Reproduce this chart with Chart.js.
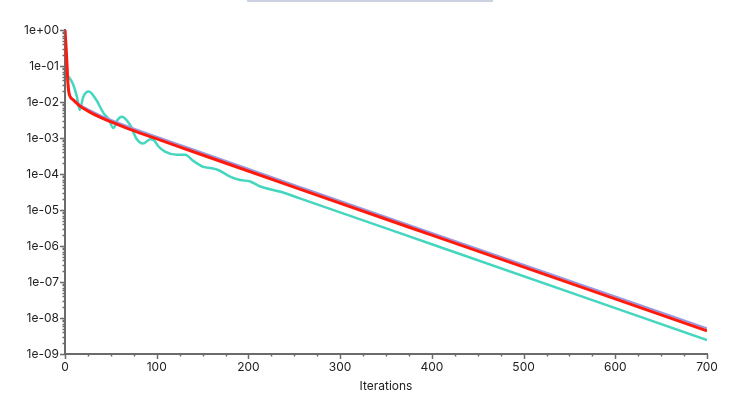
<!DOCTYPE html>
<html>
<head>
<meta charset="utf-8">
<script src="https://cdn.jsdelivr.net/npm/chart.js@4/dist/chart.umd.min.js"></script>
<style>
  html, body { margin: 0; padding: 0; background: #fff; }
  #wrap { width: 738px; height: 394px; position: relative; }
</style>
</head>
<body>
<div id="wrap"><canvas id="residuals"></canvas></div>
<script>
// residual history: iteration + value
const redIters  = [0, 1, 2, 3, 4, 6, 9, 16, 27, 38, 49, 71, 104, 136, 256, 400, 700];
const redVals   = [1, 0.4, 0.14, 0.04, 0.02, 0.0135, 0.0115, 0.0078, 0.00525, 0.0038, 0.0029, 0.00174, 8.7e-4, 4.5e-4, 3.8e-5, 2.0e-6, 4.4e-9];

const blueIters = [0, 1, 2, 3, 4, 6, 9, 16, 27, 38, 49, 71, 104, 136, 256, 400, 700];
const blueVals  = [1, 0.4, 0.14, 0.042, 0.021, 0.014, 0.012, 0.0085, 0.0059, 0.0043, 0.0033, 0.002, 1.0e-3, 5.2e-4, 4.4e-5, 2.3e-6, 5.2e-9];

const tealIters = [2, 4, 9, 13, 16, 20, 26, 34, 42, 47, 53, 57, 62, 71, 78, 85, 93, 97, 102, 109, 122, 131, 140, 151, 160, 167, 180, 191, 202, 213, 235, 256, 400, 700];
const tealVals  = [0.055, 0.05, 0.03, 0.014, 0.006, 0.014, 0.0195, 0.0115, 0.0049, 0.0035, 0.0019, 0.0031, 0.0039, 0.0023, 0.00095, 0.0007, 0.00093, 0.00087, 0.00058, 0.00042, 0.00034, 0.00034, 0.00023, 0.000158, 0.000145, 0.000129, 8.5e-5, 6.8e-5, 6.2e-5, 4.5e-5, 3.2e-5, 2.1e-5, 1.12e-6, 2.45e-9];

const decades = [1e-9, 1e-8, 1e-7, 1e-6, 1e-5, 1e-4, 1e-3, 1e-2, 1e-1, 1];
const xMajor = [0, 100, 200, 300, 400, 500, 600, 700];

const pts = (xs, ys) => xs.map((x, i) => ({ x: x, y: ys[i] }));

function fmtExp(v) {
    const e = Math.round(Math.log10(v));
    const s = e < 0 ? '-' : '+';
    return '1e' + s + String(Math.abs(e)).padStart(2, '0');
}

const axisColor = '#6b6b6b';

// draws the axis tick marks (major + minor) and the faint bar at the top
const tickMarks = {
    id: 'tickMarks',
    beforeDraw(chart) {
        const ctx = chart.ctx;
        ctx.save();
        ctx.fillStyle = '#cdd2e2';
        ctx.fillRect(247, 0, 246, 2);
        ctx.restore();
    },
    afterDraw(chart) {
        const ctx = chart.ctx;
        const xs = chart.scales.x, ys = chart.scales.y;
        const area = chart.chartArea;
        ctx.save();
        ctx.strokeStyle = axisColor;
        ctx.lineWidth = 1.5;
        ctx.beginPath();
        for (let v = 0; v <= 700; v += 25) {
            const px = Math.round(xs.getPixelForValue(v)) + 0.5;
            const len = v % 100 === 0 ? 5 : 2.5;
            ctx.moveTo(px, area.bottom);
            ctx.lineTo(px, area.bottom + len);
        }
        for (let e = -9; e <= 0; e++) {
            for (let m = 1; m <= 9; m++) {
                const v = m * Math.pow(10, e);
                if (v > 1.0000001) break;
                const py = Math.round(ys.getPixelForValue(v)) + 0.5;
                const len = m === 1 ? 5 : 2.5;
                ctx.moveTo(area.left, py);
                ctx.lineTo(area.left - len, py);
            }
        }
        ctx.stroke();
        ctx.restore();
    }
};

const chart = new Chart(document.getElementById('residuals'), {
    type: 'line',
    data: {
        datasets: [{
            label: 'red',
            data: pts(redIters, redVals),
            borderColor: '#ff1a0d',
            borderWidth: 3,
            pointRadius: 0,
            cubicInterpolationMode: 'monotone',
            order: 0
        }, {
            label: 'blue',
            data: pts(blueIters, blueVals),
            borderColor: '#9a98e0',
            borderWidth: 2,
            pointRadius: 0,
            cubicInterpolationMode: 'monotone',
            order: 1
        }, {
            label: 'teal',
            data: pts(tealIters, tealVals),
            borderColor: '#44d6bf',
            borderWidth: 2.5,
            pointRadius: 0,
            cubicInterpolationMode: 'monotone',
            order: 2
        }]
    },
    options: {
        responsive: true,
        maintainAspectRatio: false,
        animation: false,
        layout: { padding: { top: 30, right: 31, left: 0, bottom: 0 } },
        plugins: { legend: { display: false }, tooltip: { enabled: false } },
        scales: {
            x: {
                type: 'linear',
                min: 0,
                max: 700,
                afterBuildTicks: (scale) => { scale.ticks = xMajor.map(v => ({ value: v })); },
                afterFit: (scale) => { scale.height = 40; },
                ticks: {
                    color: '#222',
                    font: { family: 'Inter', size: 12 },
                    padding: 6,
                    maxRotation: 0
                },
                grid: { display: false, drawTicks: false },
                border: { display: true, color: axisColor, width: 2 },
                title: {
                    display: true,
                    text: 'Iterations',
                    color: '#222',
                    font: { family: 'Inter', size: 12 },
                    padding: { top: 4, bottom: 0 }
                }
            },
            y: {
                type: 'logarithmic',
                min: 1e-9,
                max: 1,
                afterBuildTicks: (scale) => { scale.ticks = decades.map(v => ({ value: v })); },
                afterFit: (scale) => { scale.width = 65; },
                ticks: {
                    color: '#222',
                    font: { family: 'Inter', size: 12 },
                    padding: 6,
                    callback: (v) => fmtExp(v)
                },
                grid: { display: false, drawTicks: false },
                border: { display: true, color: axisColor, width: 2 }
            }
        }
    },
    plugins: [tickMarks]
});
</script>
</body>
</html>
